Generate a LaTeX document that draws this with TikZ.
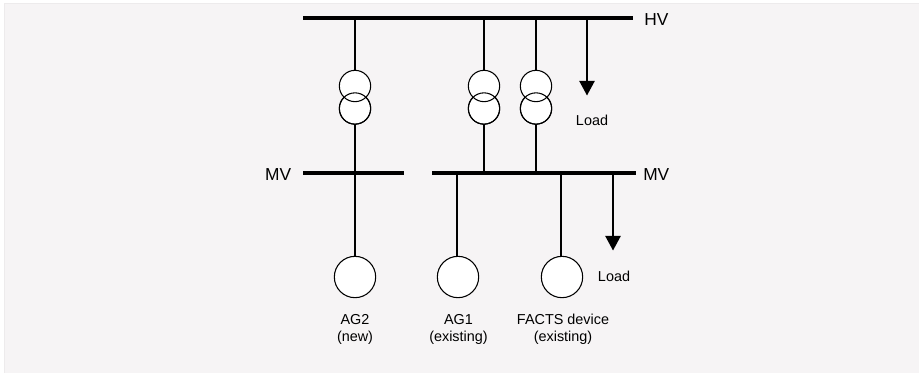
\documentclass[tikz,border=0pt]{standalone}
\usepackage{fontspec}
\setmainfont{Liberation Sans}
\usetikzlibrary{arrows.meta}
\definecolor{bgc}{HTML}{F6F4F5}
\definecolor{edgec}{HTML}{EDEBEC}
\tikzset{
  x=0.75pt,y=-0.75pt,
  bus/.style={fill=black,draw=none,inner sep=0pt,minimum height=3pt,outer sep=0pt},
  wire/.style={draw=black,line width=1.3pt},
  load/.style={wire,-{Triangle[width=11.5pt,length=11pt]}},
  coil/.style={circle,draw=black,line width=0.8pt,fill=white,inner sep=0pt,minimum size=23.5pt,outer sep=0pt},
  coiltop/.style={circle,draw=black,line width=0.8pt,inner sep=0pt,minimum size=23.5pt,outer sep=0pt},
  gen/.style={circle,draw=black,line width=0.8pt,fill=white,inner sep=0pt,minimum size=31pt,outer sep=0pt},
  big/.style={font=\fontsize{13}{15}\selectfont,inner sep=0pt},
  small/.style={font=\fontsize{10.8}{13}\selectfont,inner sep=0pt,align=center},
}
\begin{document}
\begin{tikzpicture}
\useasboundingbox (0,0) rectangle (919,372);
\fill[white] (0,0) rectangle (919,372);
\path[fill=bgc,draw=edgec,line width=0.5pt] (4,3.5) rectangle (930,385);
% buses
\node[bus,minimum width=247.5pt] (hv) at (468,17.7) {};
\node[bus,minimum width=75.75pt] (mvl) at (353.5,172.7) {};
\node[bus,minimum width=153pt] (mvr) at (534,172.7) {};
% bus tap coordinates
\coordinate (h1) at (355,17.7);
\coordinate (h2) at (484,17.7);
\coordinate (h3) at (536,17.7);
\coordinate (h4) at (587,17.7);
\coordinate (m1) at (355,172.7);
\coordinate (m2) at (484,172.7);
\coordinate (m3) at (536,172.7);
\coordinate (m4) at (457,172.7);
\coordinate (m5) at (561,172.7);
\coordinate (m6) at (613,172.7);
% transformers
\node[coil] (t1b) at (355,108.5) {};
\node[coil] (t2b) at (484,108.5) {};
\node[coil] (t3b) at (536,108.5) {};
\node[coil] (t1a) at (355,86) {};
\node[coil] (t2a) at (484,86) {};
\node[coil] (t3a) at (536,86) {};
\node[coiltop] at (355,108.5) {};
\node[coiltop] at (484,108.5) {};
\node[coiltop] at (536,108.5) {};
% machines
\node[gen] (g1) at (355,277) {};
\node[gen] (g2) at (458,277) {};
\node[gen] (g3) at (562,277) {};
% load end points
\coordinate (l1) at (587,95.5);
\coordinate (l2) at (613,250.5);
% connectors
\draw[wire] (h1) -- (t1a);
\draw[wire] (h2) -- (t2a);
\draw[wire] (h3) -- (t3a);
\draw[wire] (t1b) -- (m1);
\draw[wire] (t2b) -- (m2);
\draw[wire] (t3b) -- (m3);
\draw[wire] (m1) -- (g1);
\draw[wire] (m4) -- (m4 |- g2.north);
\draw[wire] (m5) -- (m5 |- g3.north);
\draw[load] (h4) -- (l1);
\draw[load] (m6) -- (l2);
% labels
\node[big,anchor=west] (lhv) at (644,19.5) {HV};
\node[big,anchor=east] (lmv1) at (291.5,175) {MV};
\node[big,anchor=west] (lmv2) at (643,175) {MV};
\node[small] (ll1) at (592,120) {Load};
\node[small] (ll2) at (614,276.5) {Load};
\node[small] (a2) at (355,329.5) {AG2\\(new)};
\node[small] (a1) at (458.5,329.5) {AG1\\(existing)};
\node[small] (f) at (563,329.5) {FACTS device\\(existing)};
\end{tikzpicture}
\end{document}
